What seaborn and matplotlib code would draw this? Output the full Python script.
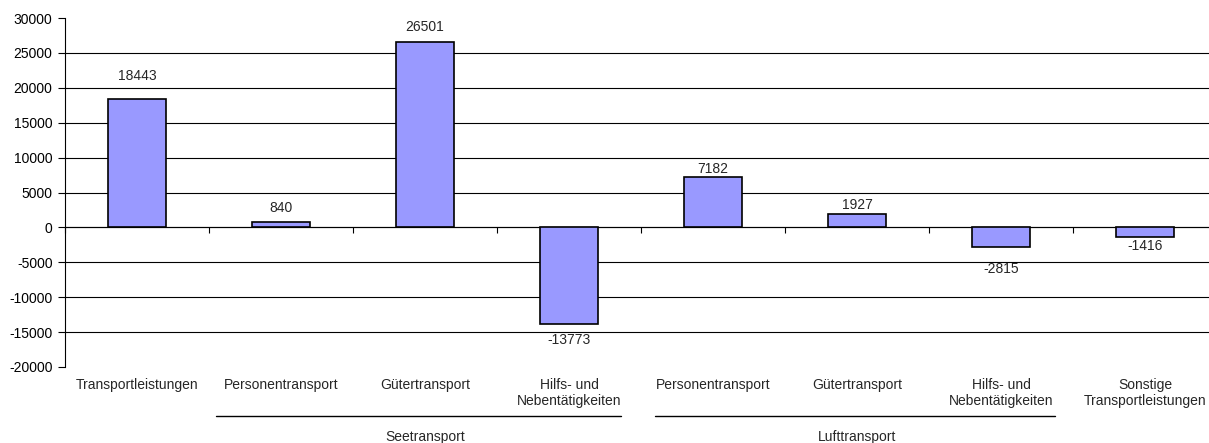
import matplotlib
matplotlib.use("Agg")
import matplotlib.pyplot as plt
import matplotlib.transforms as mtransforms
import numpy as np
import pandas as pd
import seaborn as sns

# Transport balance by service category
categories = ["Transportleistungen", "Personentransport", "Gütertransport",
              "Hilfs- und\nNebentätigkeiten", "Personentransport", "Gütertransport",
              "Hilfs- und\nNebentätigkeiten", "Sonstige\nTransportleistungen"]
groups = ["", "Seetransport", "Seetransport", "Seetransport",
          "Lufttransport", "Lufttransport", "Lufttransport", ""]
values = [18443, 840, 26501, -13773, 7182, 1927, -2815, -1416]
y_ticks = [-20000, -15000, -10000, -5000, 0, 5000, 10000, 15000, 20000, 25000, 30000]

sns.set_theme(style="white")
plt.rcParams["font.family"] = ["Liberation Sans", "DejaVu Sans"]
FS = 10

W, H = 1209, 443
df = pd.DataFrame({"pos": [str(i) for i in range(len(values))], "value": values})

fig = plt.figure(figsize=(W / 100, H / 100), dpi=100)
# plot area runs slightly past the right edge of the canvas
ax = fig.add_axes([65 / W, 1 - 367 / H, 1152 / W, (367 - 18) / H])

sns.barplot(data=df, x="pos", y="value", ax=ax, color="#9999FF", saturation=1,
            width=0.40, edgecolor="black", linewidth=1.2, zorder=3)

ax.set_xlim(-0.5, len(values) - 0.5)
ax.set_ylim(y_ticks[0], y_ticks[-1])
ax.set_yticks(y_ticks)
ax.set_yticklabels([str(t) for t in y_ticks], fontsize=FS, color="black")
ax.set_xlabel("")
ax.set_ylabel("")

# horizontal gridlines (inner values only)
for t in y_ticks[1:-1]:
    ax.axhline(t, color="black", lw=0.8, zorder=1)

# axes styling: category axis on the zero line
for s in ["top", "right"]:
    ax.spines[s].set_visible(False)
ax.spines["left"].set_color("black")
ax.spines["left"].set_linewidth(0.8)
ax.spines["bottom"].set_position(("data", 0))
ax.spines["bottom"].set_color("black")
ax.spines["bottom"].set_linewidth(0.8)
ax.spines["bottom"].set_zorder(2)
ax.set_xticks(np.arange(-0.5, len(values), 1.0))
ax.set_xticklabels([])
ax.tick_params(axis="x", direction="out", length=4, width=0.8, color="black", bottom=True)
ax.tick_params(axis="y", direction="out", length=5, width=0.8, color="black", left=True, pad=4)

# value labels (gap in pixels between bar end and label)
label_gap_px = [19, 10, 11, 9, 4, 5, 15, 2]
for i, (v, gap) in enumerate(zip(values, label_gap_px)):
    if v >= 0:
        ax.annotate(str(v), (i, v), xytext=(0, gap * 0.72), textcoords="offset points",
                    ha="center", va="baseline", fontsize=FS, zorder=4)
    else:
        ax.annotate(str(v), (i, v), xytext=(0, -gap * 0.72), textcoords="offset points",
                    ha="center", va="top", fontsize=FS, zorder=4)

# category labels below the plot
trans = mtransforms.blended_transform_factory(ax.transData, fig.transFigure)
for i, c in enumerate(categories):
    ax.text(i, 1 - 378 / H, c, transform=trans, ha="center", va="top",
            fontsize=FS, linespacing=1.15, clip_on=False)

# group brackets and labels
bracket_inset = {"Seetransport": (0.05, 0.14), "Lufttransport": (0.10, 0.125)}
for g in ["Seetransport", "Lufttransport"]:
    idx = [i for i, gg in enumerate(groups) if gg == g]
    li, ri = bracket_inset[g]
    x0, x1 = idx[0] - 0.5 + li, idx[-1] + 0.5 - ri
    y_line = 1 - 416 / H
    ax.plot([x0, x1], [y_line, y_line], transform=trans, color="black", lw=1.0, clip_on=False)
    ax.text((idx[0] + idx[-1]) / 2, 1 - 437 / H, g, transform=trans, ha="center",
            va="center", fontsize=FS, clip_on=False)

fig.savefig("out.png", dpi=100)
